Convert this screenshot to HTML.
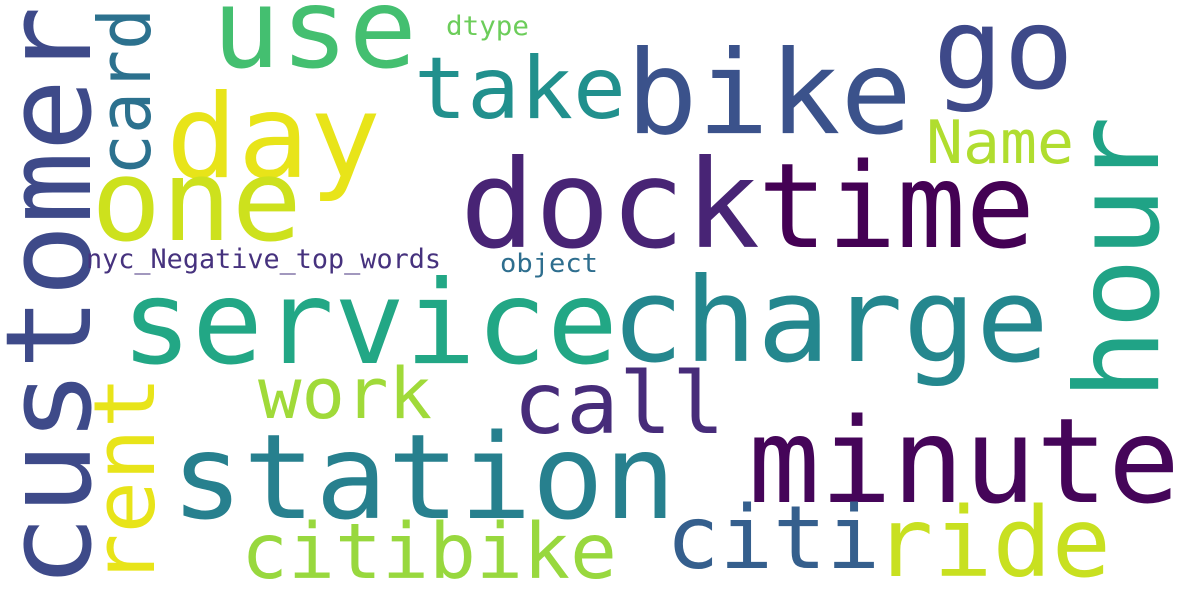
<!DOCTYPE html>
<html><head><meta charset="utf-8"><style>
html,body{margin:0;padding:0;background:#fff;width:1200px;height:600px;overflow:hidden}
svg text{font-family:"DejaVu Sans Mono","Liberation Mono",monospace;}
</style></head><body>
<svg id="cloud" width="1200" height="600" viewBox="0 0 1200 600" xmlns="http://www.w3.org/2000/svg">
<rect width="1200" height="600" fill="#ffffff"/>
</svg>
<script>
const words = ["customer","use","day","one","go","take","bike","card","dock","time","Name","hour","nyc_Negative_top_words","dtype","object","service","charge","rent","work","call","minute","station","citibike","citi","ride"];
const colors = ["#3e4a89","#44bf70","#e8e419","#cde11d","#3e4989","#21908d","#3b528b","#2c718e","#482475","#440154","#b0dd2f","#20a386","#46327e","#6ccd5a","#2e6e8e","#22a785","#24878e","#e8e419","#a0da39","#472c7a","#450559","#27808e","#98d83e","#355f8d","#c8e020"];
const sizes = [119,111,116,113,112,86,116,72,122,118,60,116,26.6,26.6,26,116,117,85,70,86,118,118,77,87,96];
const xs = [90,212,166,91,933,414,626,150,460,758,926,1158,86,446,500,121,611,154,258,513,748,171,241,666,874];
const ys = [588,67,177,240,88,118,133,176,247,247,163,400,268,35,272,363,361,586,418,433,502,518,578,568,576];
const rots = [-90,0,0,0,0,0,0,-90,0,0,0,-90,0,0,0,0,0,-90,0,0,0,0,0,0,0];
const lens = [582,205,215,211,141,212,286,168,300,277,148,284,355,83,98,497,438,210,174,212,432,505,376,214,237];
const svg = document.getElementById('cloud');
for (let i = 0; i < words.length; i++) {
  const t = document.createElementNS('http://www.w3.org/2000/svg', 'text');
  t.textContent = words[i];
  t.setAttribute('font-size', sizes[i]);
  t.setAttribute('fill', colors[i]);
  t.setAttribute('textLength', lens[i]);
  t.setAttribute('lengthAdjust', 'spacingAndGlyphs');
  if (rots[i] !== 0) {
    t.setAttribute('transform', 'translate(' + xs[i] + ',' + ys[i] + ') rotate(' + rots[i] + ')');
    t.setAttribute('x', 0); t.setAttribute('y', 0);
  } else {
    t.setAttribute('x', xs[i]); t.setAttribute('y', ys[i]);
  }
  
  
  svg.appendChild(t);
}
</script>
</body></html>
